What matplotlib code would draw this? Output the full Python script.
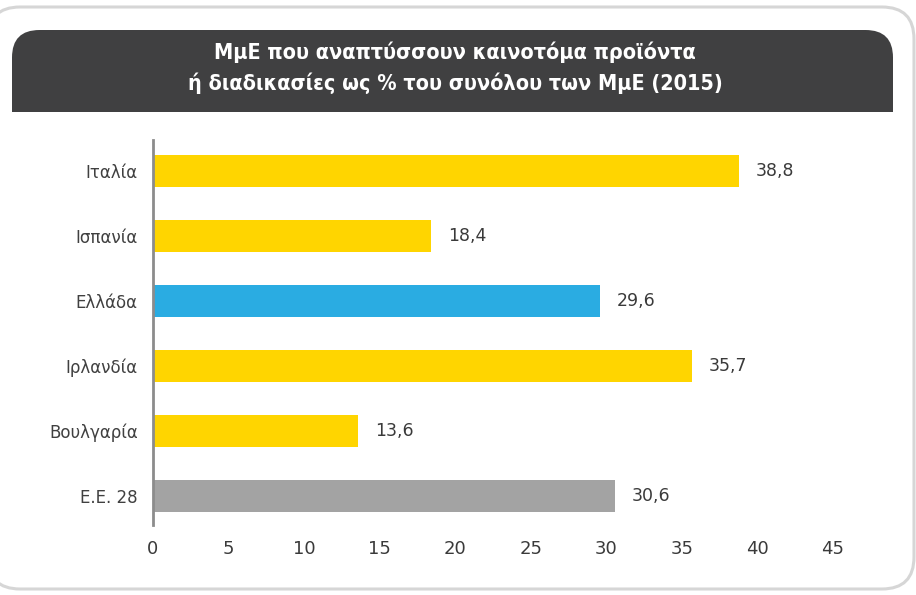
import matplotlib
matplotlib.use("Agg")
import matplotlib.pyplot as plt
from matplotlib.patches import FancyBboxPatch, Rectangle

categories = ["Ιταλία", "Ισπανία", "Ελλάδα", "Ιρλανδία", "Βουλγαρία", "Ε.Ε. 28"]
values = [38.8, 18.4, 29.6, 35.7, 13.6, 30.6]
value_labels = ["38,8", "18,4", "29,6", "35,7", "13,6", "30,6"]
bar_colors = ["#FFD500", "#FFD500", "#2AACE2", "#FFD500", "#FFD500", "#A3A3A3"]
x_ticks = [0, 5, 10, 15, 20, 25, 30, 35, 40, 45]
title = "ΜμΕ που αναπτύσσουν καινοτόμα προϊόντα\nή διαδικασίες ως % του συνόλου των ΜμΕ (2015)"

W, H = 916, 595
fig = plt.figure(figsize=(W / 100, H / 100), dpi=100)
fig.patch.set_facecolor("white")

# outer rounded card
card = FancyBboxPatch((-12 / W, 6 / H), 926 / W, 582 / H,
                      boxstyle="round,pad=0,rounding_size=0.035",
                      transform=fig.transFigure, facecolor="white",
                      edgecolor="#D6D6D6", linewidth=2.2,
                      mutation_aspect=W / H, zorder=-2)
fig.patches.append(card)

# dark title banner with rounded top corners
banner = FancyBboxPatch((12 / W, (H - 112) / H), 881 / W, 82 / H,
                        boxstyle="round,pad=0,rounding_size=0.03",
                        transform=fig.transFigure, facecolor="#404041",
                        edgecolor="none", mutation_aspect=W / H, zorder=-1)
fig.patches.append(banner)
fig.patches.append(Rectangle((12 / W, (H - 112) / H), 881 / W, 40 / H,
                             transform=fig.transFigure, facecolor="#404041",
                             edgecolor="none", zorder=-1))
fig.text(455 / W, (H - 68) / H, title, ha="center", va="center",
         color="white", fontsize=15.5, fontweight="bold",
         fontstretch="condensed", linespacing=1.55,
         family="DejaVu Sans")

ax = fig.add_axes([153 / W, 1 - 525 / H, (48 * 15.11) / W, (525 - 140) / H])
ax.set_zorder(3)
ax.set_facecolor("none")
y = list(range(len(categories)))
ax.barh(y, values, height=0.49, color=bar_colors, zorder=2)

for yi, v, lab in zip(y, values, value_labels):
    ax.text(v + 1.1, yi, lab, va="center", ha="left", fontsize=12.5,
            color="#3A3A3A")

ax.set_xlim(0, 48)
ax.set_ylim(len(categories) - 0.554, -0.477)
ax.set_yticks(y)
ax.set_yticklabels(categories, fontsize=12, color="#404040")
ax.set_xticks(x_ticks)
ax.set_xticklabels([str(t) for t in x_ticks], fontsize=13, color="#3A3A3A")
ax.tick_params(axis="y", length=0, pad=11)
ax.tick_params(axis="x", length=0, pad=11)
for s in ["top", "right", "bottom"]:
    ax.spines[s].set_visible(False)
ax.spines["left"].set_color("#8C8C8C")
ax.spines["left"].set_linewidth(2)

fig.savefig("out.png", dpi=100)
